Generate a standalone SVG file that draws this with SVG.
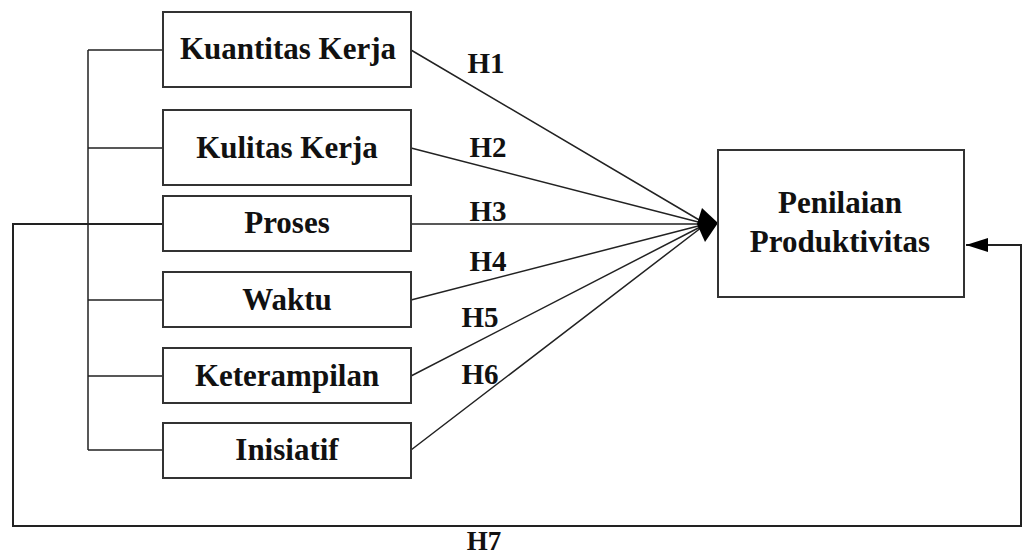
<svg xmlns="http://www.w3.org/2000/svg" width="1024" height="557" viewBox="0 0 1024 557">
<defs>
<style>
.box{fill:#fff;stroke:#333;stroke-width:2}
.ln{fill:none;stroke:#222;stroke-width:1.5}
.t{font-family:'Liberation Serif','Times New Roman','DejaVu Serif',serif;font-weight:bold;font-size:31px;fill:#111;text-anchor:middle}
.h{font-family:'Liberation Serif','Times New Roman','DejaVu Serif',serif;font-weight:bold;font-size:29px;fill:#111;text-anchor:middle}
</style>
<marker id="arr" viewBox="0 0 22 14" refX="22" refY="7" markerWidth="22" markerHeight="14" markerUnits="userSpaceOnUse" orient="auto">
<path d="M22,7 L0,0 L0,14 z" fill="#000"/>
</marker>
</defs>
<rect width="1024" height="557" fill="#fff"/>
<g id="connectors">
<path class="ln" d="M88,50 V450 M88,50 H163 M88,148 H163 M88,300 H163 M88,376 H163 M88,450 H163"/>
<path class="ln" d="M163,224 H13 V526 H1021 V245 H966" marker-end="url(#arr)" style="stroke-width:2"/>
<path class="ln" d="M411,50 L706,224 M411,148 L706,224 M411,224 L706,224 M411,300 L706,224 M411,376 L706,224 M411,450 L706,224"/>
<polygon points="702,208 718,223 705,242 697,224" fill="#000"/>
<text class="h" x="486" y="73">H1</text>
<text class="h" x="488" y="157">H2</text>
<text class="h" x="488" y="221">H3</text>
<text class="h" x="488" y="271">H4</text>
<text class="h" x="480" y="327">H5</text>
<text class="h" x="480" y="384">H6</text>
<text class="h" x="484" y="550" style="font-size:27px">H7</text>
</g>
<g id="n1"><rect class="box" x="163" y="12" width="248" height="75"/><text class="t" x="288" y="59">Kuantitas Kerja</text></g>
<g id="n2"><rect class="box" x="163" y="110" width="248" height="75"/><text class="t" x="287" y="158">Kulitas Kerja</text></g>
<g id="n3"><rect class="box" x="163" y="196" width="248" height="55"/><text class="t" x="287" y="233">Proses</text></g>
<g id="n4"><rect class="box" x="163" y="272" width="248" height="55"/><text class="t" x="287" y="310">Waktu</text></g>
<g id="n5"><rect class="box" x="163" y="348" width="248" height="55"/><text class="t" x="287" y="386">Keterampilan</text></g>
<g id="n6"><rect class="box" x="163" y="423" width="248" height="55"/><text class="t" x="287" y="460">Inisiatif</text></g>
<g id="n7"><rect class="box" x="718" y="150" width="246" height="147"/><text class="t" x="840" y="213">Penilaian</text><text class="t" x="840" y="252">Produktivitas</text></g>
</svg>
